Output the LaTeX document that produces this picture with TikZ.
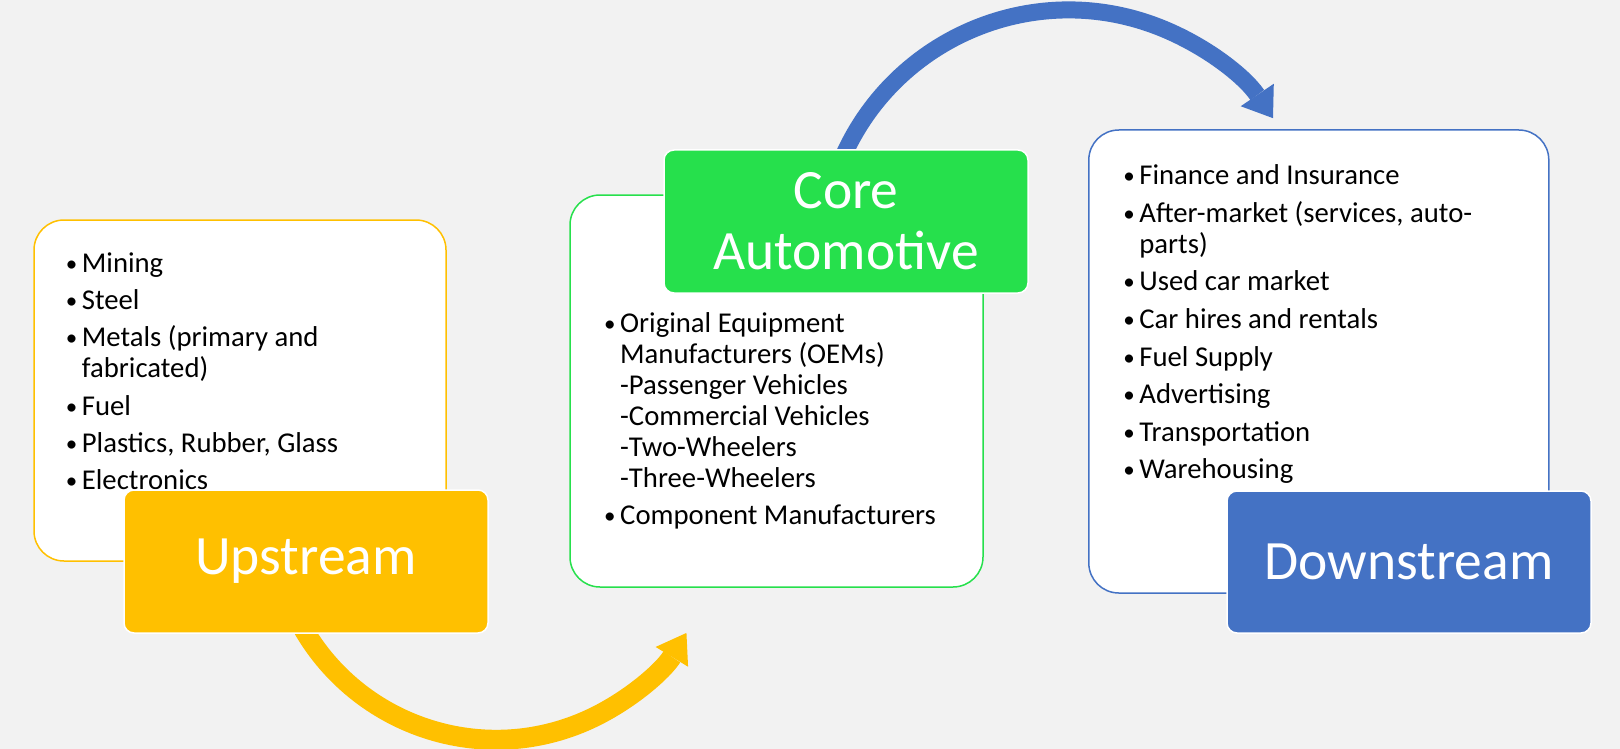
\documentclass[tikz,border=0pt]{standalone}
\usepackage{fontspec}
\setmainfont{Carlito}
\usetikzlibrary{arrows.meta}

\definecolor{upyellow}{RGB}{255,192,0}
\definecolor{coregreen}{RGB}{38,224,76}
\definecolor{downblue}{RGB}{68,114,196}
\definecolor{bggray}{RGB}{242,242,242}

\newcommand{\itm}[1]{\makebox[17pt][l]{\hspace{1pt}\raisebox{1pt}{\fontsize{23}{23}\selectfont\textbullet}}#1}
\newcommand{\cont}{\hspace*{17pt}}

\tikzset{
  stagebox/.style={draw=#1, fill=white, line width=1.5pt, rounded corners=30pt},
  stagelabel/.style={fill=#1, draw=white, line width=1.5pt, rounded corners=10pt,
    minimum width=364pt, minimum height=143pt, text=white, align=center,
    font=\fontsize{55.5}{61}\selectfont},
  itemlist/.style={anchor=north west, inner sep=0pt, align=left,
    font=\fontsize{28.7}{31}\selectfont},
  flowarrow/.style={line width=#1}
}

\begin{document}
\begin{tikzpicture}[x=1pt,y=-1pt]
  \fill[bggray] (0,0) rectangle (1620,749);
  \useasboundingbox (0,0) rectangle (1620,749);

  % white boxes
  \node[stagebox=upyellow, minimum width=412pt, minimum height=341pt] (upbox) at (240,390.5) {};
  \node[stagebox=coregreen, minimum width=413pt, minimum height=392pt] (corebox) at (776.5,391) {};
  \node[stagebox=downblue, minimum width=460pt, minimum height=463pt] (downbox) at (1318.8,361.5) {};

  % lists
  \node[itemlist] (uplist) at (64.7,250.3) {\strut\itm{Mining}\\[6.3pt]
    \itm{Steel}\\[6.3pt]
    \itm{Metals (primary and}\\
    \cont fabricated)\\[6.3pt]
    \itm{Fuel}\\[6.3pt]
    \itm{Plastics, Rubber, Glass}\\[6.3pt]
    \itm{Electronics}};
  \node[itemlist] (corelist) at (603,310.3) {\strut\itm{Original Equipment}\\
    \cont Manufacturers (OEMs)\\
    \cont -Passenger Vehicles\\
    \cont -Commercial Vehicles\\
    \cont -Two-Wheelers\\
    \cont -Three-Wheelers\\[6.3pt]
    \itm{Component Manufacturers}};
  \node[itemlist] (downlist) at (1122.2,162.3) {\strut\itm{Finance and Insurance}\\[7pt]
    \itm{After-market (services, auto-}\\
    \cont parts)\\[6.6pt]
    \itm{Used car market}\\[6.6pt]
    \itm{Car hires and rentals}\\[6.6pt]
    \itm{Fuel Supply}\\[6.6pt]
    \itm{Advertising}\\[6.6pt]
    \itm{Transportation}\\[6.6pt]
    \itm{Warehousing}};

  % curved arrows
  \draw[flowarrow=20pt, upyellow, -{Triangle[length=28pt,width=38pt,line width=0pt]}]
    (306,633) ++(-12,-22) arc[start angle=155, end angle=31.4, radius=223];
  \draw[flowarrow=17pt, downblue, -{Triangle[length=28pt,width=40pt,line width=0pt]}]
    (846,150) ++(-9.4,22.5) arc[start angle=-160, end angle=-34.2, radius=247];

  % stage labels
  \node[stagelabel=upyellow] (uplab) at (306,561.5) {Upstream};
  \node[stagelabel=coregreen] (corelab) at (846,221.5) {Core\\Automotive};
  \node[stagelabel=downblue, minimum height=142pt] (downlab) at (1409,562) {Downstream};
\end{tikzpicture}
\end{document}
